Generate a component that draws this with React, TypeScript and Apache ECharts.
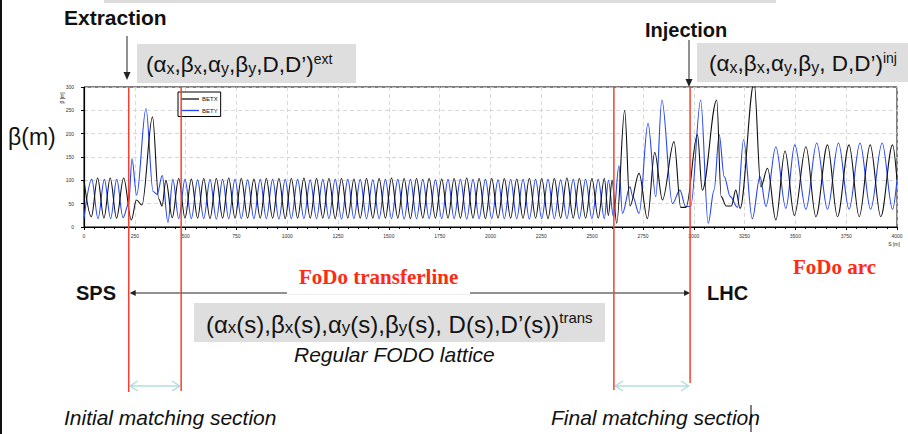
import React, { useEffect, useRef } from 'react';
import * as echarts from 'echarts';

// s positions [m] and beta values [m] (peaks / troughs)
const betxS = [0, 36, 67, 98, 129, 160, 195, 233, 258, 285, 337, 368, 384, 403, 434,
  466, 497, 528, 559, 589, 620, 651, 682, 712, 743, 774, 805, 836, 867, 897, 928, 959, 990,
  1020, 1051, 1082, 1113, 1144, 1175, 1205, 1236, 1267, 1298, 1328, 1359, 1390, 1421, 1452, 1483,
  1513, 1544, 1575, 1606, 1636, 1667, 1698, 1729, 1760, 1791, 1821, 1852, 1883, 1914, 1944, 1975,
  2006, 2037, 2068, 2099, 2129, 2160, 2191, 2222, 2252, 2283, 2314, 2345, 2376, 2407, 2437, 2468,
  2499, 2530, 2560, 2580, 2598, 2621,
  2660, 2686, 2731, 2772, 2808, 2846, 2903, 2936, 2962, 3018, 3042, 3113, 3135, 3160, 3185, 3207,
  3228, 3297, 3330, 3363, 3404, 3449, 3495, 3552, 3601, 3658, 3707, 3764, 3814, 3868, 3920, 3978, 4000];
const betxV = [100, 22, 105, 19, 105, 19, 105, 15, 58, 47, 236, 60, 45, 100, 20,
  104, 19, 103, 19, 104, 18, 104, 19, 105, 19, 104, 19, 103, 19, 104, 19, 104, 18,
  104, 19, 105, 19, 104, 19, 104, 18, 104, 19, 103, 19, 104, 19, 104, 19,
  105, 19, 104, 18, 104, 19, 104, 19, 103, 19, 104, 19, 105, 19, 104, 18,
  104, 19, 104, 19, 103, 19, 104, 19, 104, 18, 104, 19, 105, 19, 104, 19,
  104, 19, 104, 25, 100, 8,
  250, 45, 115, 18, 160, 58, 183, 42, 42, 198, 79, 272, 65, 45, 45, 79,
  40, 310, 86, 126, 15, 163, 25, 172, 22, 176, 22, 176, 22, 176, 22, 176, 101];

const betyS = [0, 38, 69, 100, 131, 161, 192, 220, 236, 259, 305, 340, 360, 385, 413, 437,
  466, 497, 528, 559, 589, 620, 651, 682, 712, 743, 774, 805, 836, 867, 897, 928, 959, 990,
  1020, 1051, 1082, 1113, 1144, 1175, 1205, 1236, 1267, 1298, 1328, 1359, 1390, 1421, 1452, 1483,
  1513, 1544, 1575, 1606, 1636, 1667, 1698, 1729, 1760, 1791, 1821, 1852, 1883, 1914, 1944, 1975,
  2006, 2037, 2068, 2099, 2129, 2160, 2191, 2222, 2252, 2283, 2314, 2345, 2376, 2407, 2437, 2468,
  2499, 2530, 2560, 2580, 2605,
  2632, 2649, 2686, 2700, 2731, 2775, 2813, 2843, 2895, 2932, 2960, 2985, 3034, 3071, 3100, 3125,
  3150, 3180, 3215, 3245, 3288, 3326, 3355, 3404, 3453, 3497, 3552, 3605, 3658, 3712, 3764, 3818,
  3870, 3927, 3978, 4000];
const betyV = [18, 102, 18, 102, 18, 102, 20, 50, 146, 68, 254, 76, 70, 110, 10, 102,
  18, 102, 18, 101, 18, 102, 17, 102, 18, 102, 18, 101, 18, 102, 18, 102, 17, 102,
  18, 102, 18, 101, 18, 102, 18, 102, 17, 102, 18, 102, 18, 101, 18, 102,
  18, 102, 17, 102, 18, 102, 18, 101, 18, 102, 18, 102, 17, 102, 18, 102,
  18, 101, 18, 102, 18, 102, 17, 102, 18, 102, 18, 101, 18, 102, 18, 102,
  18, 102, 18, 100, 22,
  131, 29, 86, 65, 29, 222, 65, 272, 50, 79, 44, 44, 272, 8, 79, 198,
  108, 65, 42, 187, 18, 108, 44, 172, 40, 176, 38, 180, 38, 180, 38, 180,
  38, 180, 38, 101];

const boundaries = [220, 478, 2607, 2982]; // extraction, end initial match, start final match, injection
const redBottoms = [392, 391, 390, 383];

const sans = '"Liberation Sans", Arial, sans-serif';
const serif = '"Liberation Serif", "Times New Roman", serif';
const red = '#f4412d';
const redText = '#ff2a12';
const cyan = '#b2dcdf';
const ink = '#111111';
const boxGrey = '#dedede';

const makeRich = (m: number, s: number, u: number) => ({
  m: { fontSize: m, fontFamily: sans, fill: ink, lineHeight: m + 2, verticalAlign: 'bottom' },
  s: { fontSize: s, fontFamily: sans, fill: ink, lineHeight: s, verticalAlign: 'bottom' },
  u: { fontSize: u, fontFamily: sans, fill: ink, lineHeight: u, verticalAlign: 'top' },
});
const richSmall = makeRich(22.5, 16, 14);
const richBig = makeRich(24, 17, 15);

function txt(text: string, x: number, y: number, extra: any = {}) {
  return {
    type: 'text', x, y, z: 120,
    style: { text, fill: ink, fontFamily: sans, fontSize: 20, verticalAlign: 'middle', align: 'left', ...extra },
  };
}

function buildGraphic(bx: number[]) {
  const els: any[] = [];
  els.push({ type: 'rect', z: 100, shape: { x: 0, y: 0, width: 2, height: 434 }, style: { fill: '#111' } });
  els.push({ type: 'rect', z: 100, shape: { x: 104, y: 0, width: 672, height: 3 }, style: { fill: '#dcdcdc' } });

  // Extraction
  els.push(txt('Extraction', 64, 17, { fontWeight: 'bold', fontSize: 21 }));
  els.push({ type: 'line', z: 110, shape: { x1: 127, y1: 36, x2: 127, y2: 74 }, style: { stroke: '#222', lineWidth: 1 } });
  els.push({ type: 'polygon', z: 110, shape: { points: [[123.5, 72], [130.5, 72], [127, 80]] }, style: { fill: '#222' } });
  els.push({ type: 'rect', z: 105, shape: { x: 137, y: 44, width: 219, height: 39 }, style: { fill: boxGrey } });
  els.push({ type: 'text', x: 146, y: 64, z: 120, style: {
    text: '{m|(α}{s|x}{m|,β}{s|x}{m|,α}{s|y}{m|,β}{s|y}{m|,D,D’)}{u|ext}', rich: richSmall, fill: ink,
    verticalAlign: 'middle', align: 'left' } });

  // Injection
  els.push(txt('Injection', 645, 30, { fontWeight: 'bold', fontSize: 20 }));
  els.push({ type: 'line', z: 110, shape: { x1: 689, y1: 40, x2: 689, y2: 81 }, style: { stroke: '#222', lineWidth: 1 } });
  els.push({ type: 'polygon', z: 110, shape: { points: [[685.5, 79], [692.5, 79], [689, 87]] }, style: { fill: '#222' } });
  els.push({ type: 'rect', z: 105, shape: { x: 697, y: 43, width: 211, height: 39 }, style: { fill: boxGrey } });
  els.push({ type: 'text', x: 709, y: 63, z: 120, style: {
    text: '{m|(α}{s|x}{m|,β}{s|x}{m|,α}{s|y}{m|,β}{s|y}{m|, D,D’)}{u|inj}', rich: richSmall, fill: ink,
    verticalAlign: 'middle', align: 'left' } });

  els.push(txt('β(m)', 8, 137, { fontSize: 23 }));

  // red section boundaries
  bx.forEach((x, i) => {
    els.push({ type: 'line', z: 115, shape: { x1: x, y1: 87, x2: x, y2: redBottoms[i] }, style: { stroke: red, lineWidth: 1.5 } });
  });

  // cyan double arrows
  const cyanArrow = (a: number, b: number) => {
    const y = 386;
    els.push({ type: 'line', z: 110, shape: { x1: a + 1, y1: y, x2: b - 1, y2: y }, style: { stroke: cyan, lineWidth: 1.5 } });
    els.push({ type: 'polyline', z: 110, shape: { points: [[a + 9, y - 5], [a + 1.5, y], [a + 9, y + 5]] }, style: { stroke: cyan, lineWidth: 1.5, fill: 'none' } });
    els.push({ type: 'polyline', z: 110, shape: { points: [[b - 9, y - 5], [b - 1.5, y], [b - 9, y + 5]] }, style: { stroke: cyan, lineWidth: 1.5, fill: 'none' } });
  };
  cyanArrow(bx[0], bx[1]);
  cyanArrow(bx[2], bx[3]);

  // SPS <-> LHC
  els.push(txt('SPS', 76, 293, { fontWeight: 'bold', fontSize: 20 }));
  els.push(txt('LHC', 707, 293, { fontWeight: 'bold', fontSize: 20 }));
  els.push({ type: 'line', z: 108, shape: { x1: bx[0] + 3, y1: 293, x2: bx[3] - 3, y2: 293 }, style: { stroke: '#222', lineWidth: 1 } });
  els.push({ type: 'polygon', z: 108, shape: { points: [[bx[0] + 1, 293], [bx[0] + 7, 290], [bx[0] + 7, 296]] }, style: { fill: '#222' } });
  els.push({ type: 'polygon', z: 108, shape: { points: [[bx[3], 293], [bx[3] - 6, 290], [bx[3] - 6, 296]] }, style: { fill: '#222' } });
  els.push({ type: 'rect', z: 109, shape: { x: 287, y: 262, width: 183, height: 32 }, style: { fill: '#fff' } });
  els.push({ type: 'line', z: 109, shape: { x1: 287, y1: 294.5, x2: 470, y2: 294.5 }, style: { stroke: '#eeeeee', lineWidth: 1 } });
  els.push(txt('FoDo transferline', 299, 277, { fontWeight: 'bold', fontSize: 21, fontFamily: serif, fill: redText }));
  els.push(txt('FoDo arc', 793, 267, { fontWeight: 'bold', fontSize: 21, fontFamily: serif, fill: redText }));

  els.push({ type: 'rect', z: 105, shape: { x: 194, y: 303, width: 411, height: 39 }, style: { fill: boxGrey } });
  els.push({ type: 'text', x: 206, y: 323, z: 120, style: {
    text: '{m|(α}{s|x}{m|(s),β}{s|x}{m|(s),α}{s|y}{m|(s),β}{s|y}{m|(s), D(s),D’(s))}{u|trans}', rich: richBig, fill: ink,
    verticalAlign: 'middle', align: 'left' } });
  els.push(txt('Regular FODO lattice', 294, 354, { fontStyle: 'italic', fontSize: 21 }));

  els.push(txt('Initial matching section', 64, 417, { fontStyle: 'italic', fontSize: 21 }));
  els.push(txt('Final matching section', 551, 417, { fontStyle: 'italic', fontSize: 21 }));
  els.push({ type: 'line', z: 125, shape: { x1: 751, y1: 405, x2: 751, y2: 432 }, style: { stroke: '#000', lineWidth: 1 } });

  // axis names of the embedded plot
  els.push({ type: 'text', x: 62, y: 98, rotation: Math.PI / 2, z: 120, style: { text: 'β [m]', fontSize: 5, fontFamily: sans, fill: '#222', align: 'center', verticalAlign: 'middle' } });
  els.push({ type: 'text', x: 894, y: 244, z: 120, style: { text: 'S [m]', fontSize: 5, fontFamily: sans, fill: '#222', align: 'center', verticalAlign: 'middle' } });
  return els;
}

const toPairs = (s: number[], v: number[]) => s.map((x, i) => [x, v[i]]);

export default function App() {
  const ref = useRef<HTMLDivElement>(null);
  useEffect(() => {
    document.body.style.margin = '0';
    const chart = echarts.init(ref.current!, null, { renderer: 'svg' });
    chart.setOption({
      animation: false,
      backgroundColor: '#ffffff',
      grid: { left: 84, top: 87, width: 813, height: 140, show: true, borderColor: '#000', borderWidth: 1, backgroundColor: 'transparent' },
      legend: {
        left: 178, top: 92, orient: 'vertical', icon: 'rect', itemWidth: 18, itemHeight: 1.3, itemGap: 5.5,
        padding: [4, 3, 3, 3], borderColor: '#000', borderWidth: 1, backgroundColor: '#fff',
        textStyle: { fontSize: 6, fontFamily: sans, color: '#111', padding: [0, 0, 0, -2] },
        data: ['BETX', 'BETY'],
      },
      xAxis: {
        type: 'value', min: 0, max: 4000, interval: 250,
        axisLine: { lineStyle: { color: '#000', width: 1.2 } },
        axisTick: { show: true, length: 3, lineStyle: { color: '#000' } },
        minorTick: { show: true, splitNumber: 5, length: 2, lineStyle: { color: '#000' } },
        axisLabel: { fontSize: 5, color: '#333', margin: 6, fontFamily: sans, formatter: (v: number) => String(v) },
        splitLine: { show: true, lineStyle: { color: '#cfcfcf', type: [4, 3], width: 0.8 } },
      },
      yAxis: {
        type: 'value', min: 0, max: 300, interval: 50,
        axisLine: { show: true, lineStyle: { color: '#000', width: 1.2 } },
        axisTick: { show: true, length: 3, lineStyle: { color: '#000' } },
        axisLabel: { fontSize: 5, color: '#333', margin: 10, fontFamily: sans, formatter: (v: number) => String(v) },
        splitLine: { show: true, lineStyle: { color: '#cfcfcf', type: [4, 3], width: 0.8 } },
      },
      series: [
        { name: 'BETX', type: 'line', data: toPairs(betxS, betxV), symbol: 'none', smooth: 0.35, smoothMonotone: 'x',
          lineStyle: { color: '#111', width: 1.1 }, itemStyle: { color: '#111' }, clip: true, z: 3 },
        { name: 'BETY', type: 'line', data: toPairs(betyS, betyV), symbol: 'none', smooth: 0.35, smoothMonotone: 'x',
          lineStyle: { color: '#2646f0', width: 1.1 }, itemStyle: { color: '#2646f0' }, clip: true, z: 2 },
      ],
    });
    const bx = boundaries.map((s) => (chart.convertToPixel({ gridIndex: 0 }, [s, 0]) as number[])[0]);
    chart.setOption({ graphic: buildGraphic(bx) });
    return () => chart.dispose();
  }, []);
  return <div ref={ref} style={{ width: 908, height: 434 }} />;
}
